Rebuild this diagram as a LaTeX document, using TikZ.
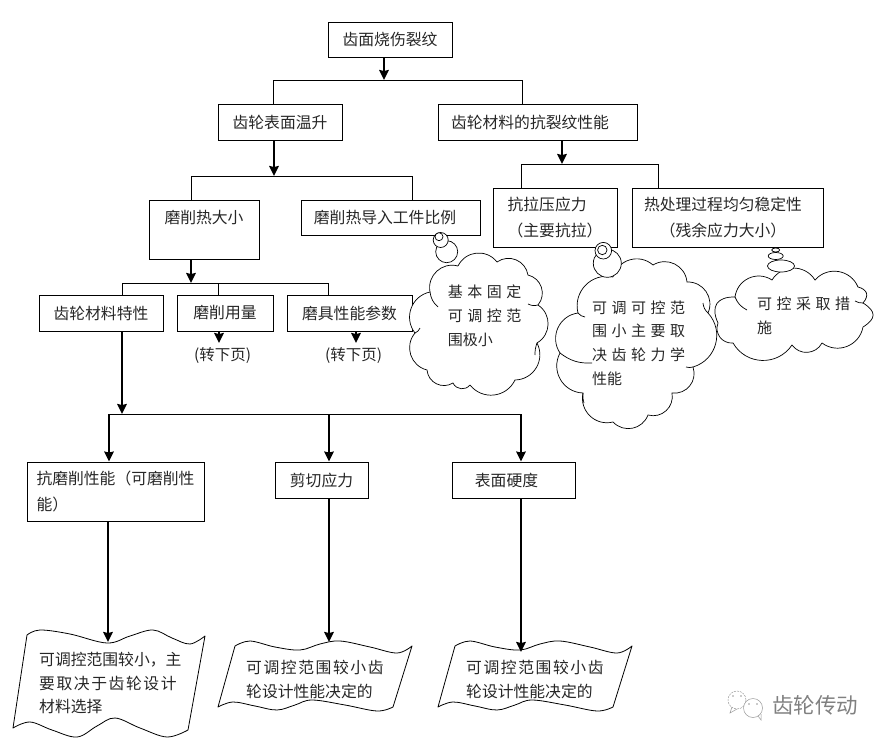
\documentclass[tikz,border=0pt]{standalone}
\usepackage{fontspec}
\setmainfont{Noto Sans CJK SC}
\newfontfamily\cjkwide[LetterSpace=10]{Noto Sans CJK SC}
\newfontfamily\cjkcloud[LetterSpace=30]{Noto Sans CJK SC}
\newfontfamily\cjkplain{Noto Sans CJK SC}
\usetikzlibrary{arrows.meta}
\tikzset{
	box/.style={draw, line width=.9pt, inner sep=0pt, align=center, text=black!85, font=\fontsize{15.8}{26}\selectfont},
	boxleft/.style={box, align=left},
	busline/.style={line width=.9pt},
	flow/.style={line width=1.9pt, ->},
	cloudline/.style={line width=.7pt, fill=white},
	lobe/.style={bend left=58, looseness=1.12},
	cloudtext/.style={align=left, inner sep=0pt, text=black!85, font=\fontsize{15}{23.8}\selectfont\cjkcloud},
	doctext/.style={align=left, inner sep=0pt, anchor=west, text=black!85, font=\fontsize{15.8}{23.5}\selectfont},
	plaintext/.style={inner sep=0pt, text=black!85, font=\fontsize{15.5}{18}\selectfont},
	docline/.style={line width=.8pt, fill=white, line join=round},
}
\begin{document}
\begin{tikzpicture}[x=1pt, y=-1pt, >={Stealth[length=10pt, width=9.5pt, inset=1pt]}]
	\useasboundingbox (0,0) rectangle (887,744);

	\node [box, minimum width=124, minimum height=35] (root) at (390,39.5) {齿面烧伤裂纹};
	\node [box, minimum width=124, minimum height=36] (surface) at (280,122) {齿轮表面温升};
	\node [box, minimum width=199, minimum height=36] (crack) at (537.5,122) {齿轮材料的抗裂纹性能\hspace*{15pt}};
	\node [box, minimum width=110, minimum height=59] (heat) at (204,229.5) {磨削热大小\\ \mbox{}};
	\node [box, minimum width=179, minimum height=35] (ratio) at (390.5,217.5) {磨削热导入工件比例\hspace*{11pt}};
	\node [boxleft, minimum width=124, minimum height=59] (tension) at (555,217.5) {抗拉压应力\\（主要抗拉）};
	\node [box, minimum width=191, minimum height=59] (treat) at (727.5,217.5) {热处理过程均匀稳定性\hspace*{9pt}\\（残余应力大小）\hspace*{9pt}};
	\node [box, minimum width=124, minimum height=36] (gear) at (101,313) {齿轮材料特性};
	\node [box, minimum width=96, minimum height=36] (amount) at (225,313) {磨削用量};
	\node [box, minimum width=125, minimum height=36] (tool) at (349.5,313) {磨具性能参数};
	\node [boxleft, minimum width=177, minimum height=59] (grind) at (115.5,491.5) {抗磨削性能（可磨削性\\能）\hspace*{124pt}};
	\node [box, minimum width=93, minimum height=36] (shear) at (321.5,480) {剪切应力};
	\node [box, minimum width=123, minimum height=36] (hard) at (513.5,480) {表面硬度\hspace*{14pt}};

	\node [plaintext] (nextA) at (222.5,356) {(转下页)};
	\node [plaintext] (nextB) at (353.5,356) {(转下页)};

	\path (384,80) coordinate (trunkA) (273,80) coordinate (busA) (522,80) coordinate (busB)
		(274,176) coordinate (trunkB) (191,176) coordinate (busC) (412,176) coordinate (busD)
		(562,164) coordinate (trunkC) (521,164) coordinate (busE) (658,164) coordinate (busF)
		(191,283) coordinate (trunkD) (122,283) coordinate (busG) (218,283) coordinate (busH) (328,283) coordinate (busI)
		(122,414) coordinate (trunkE) (109,414) coordinate (busJ) (329,414) coordinate (busK) (521,414) coordinate (busL)
		(219,343) coordinate (tipA) (356,343) coordinate (tipB)
		(108,642) coordinate (docA) (329,642) coordinate (docB) (521,652) coordinate (docC);

	\draw [busline] (surface.north-|busA)--(busA)--(busB)--(crack.north-|busB);
	\draw [busline] (heat.north-|busC)--(busC)--(busD)--(ratio.north-|busD);
	\draw [busline] (tension.north-|busE)--(busE)--(busF)--(treat.north-|busF);
	\draw [busline] (gear.north-|busG)--(busG)--(busI)--(tool.north-|busI);
	\draw [busline] (busH)--(amount.north-|busH);
	\draw [busline] (busJ)--(busL);

	\draw [docline] plot [smooth, tension=.6] coordinates {(27,635) (40,630) (70,634) (107,643) (130,636) (153,630) (172,638) (190,644) (205,636)}
		-- plot [smooth, tension=.6] coordinates {(188,730) (167,737) (140,728) (115,718) (97,726) (77,737) (52,730) (30,722) (13,728)} -- cycle;
	\foreach \dx in {0,220}{
		\begin{scope}[xshift=\dx]
			\draw [docline] plot [smooth, tension=.6] coordinates {(235,646) (250,641) (275,647) (300,650) (320,644) (340,641) (370,647) (397,653) (412,646)}
				-- plot [smooth, tension=.6] coordinates {(393,707) (377,711) (345,705) (312,700) (295,705) (277,710) (255,706) (233,702) (218,707)} -- cycle;
		\end{scope}
	}

	\draw [flow] (root.south-|trunkA)--(trunkA);
	\draw [flow] (surface.south-|trunkB)--(trunkB);
	\draw [flow] (crack.south-|trunkC)--(trunkC);
	\draw [flow] (heat.south-|trunkD)--(trunkD);
	\draw [flow] (gear.south-|trunkE)--(trunkE);
	\draw [flow] (amount.south-|tipA)--(tipA);
	\draw [flow] (tool.south-|tipB)--(tipB);
	\foreach \x/\y in {busJ/grind, busK/shear, busL/hard}{
		\draw [flow] (\x)--(\y.north-|\x);
	}
	\draw [flow] (grind.south-|docA)--(docA);
	\draw [flow] (shear.south-|docB)--(docB);
	\draw [flow] (hard.south-|docC)--(docC);

	\node [doctext] (docAtext) at (39,683) {可调控范围较小，主\\{\cjkwide 要取决于齿轮设计}\\材料选择};
	\foreach \dx/\n in {0/docBtext, 220/docCtext}{
		\node [doctext] (\n) at ({246+\dx},679.5) {{\cjkwide 可调控范围较小齿}\\轮设计性能决定的};
	}

	\draw [cloudline] (458,266) to[lobe] (497,262) to[lobe] (528,275) to[lobe] (538,305) to[lobe] (537,343) to[lobe] (515,380) to[lobe] (470,385) to[lobe] (453,383) to[lobe] (427,370) to[lobe] (415,333) to[lobe] (430,292) to[lobe] (458,266);
	\draw [line width=.7pt] (430,292) to[bend right=20] (438,307);
	\draw [line width=.7pt] (538,305) to[bend left=20] (528,304);
	\draw [line width=.7pt] (537,343) to[bend right=10] (535,355);
	\draw [line width=.7pt] (415,333) to[bend right=20] (420,328);
	\draw [cloudline] (446.7,251.7) circle (11);
	\draw [cloudline] (440.7,240) circle (7.5);
	\draw [cloudline] (439,236.7) circle (4);
	\node [cloudtext] (fixed) at (484.5,316) {基本固定\\可调控范\\{\cjkplain 围极小}};

	\draw [cloudline] (613,277) to[lobe] (653,265) to[lobe] (687,282) to[lobe] (708,313) to[lobe] (693,367) to[lobe] (672,393) to[lobe] (648,415) to[lobe] (613,422) to[lobe] (583,393) to[lobe] (560,353) to[lobe] (578,313) to[lobe] (613,277);
	\draw [line width=.7pt] (560,353) to[bend right=20] (592,363);
	\draw [line width=.7pt] (578,313) to[bend right=20] (585,317);
	\draw [line width=.7pt] (708,313) to[bend left=20] (703,303);
	\draw [line width=.7pt] (693,367) to[bend left=15] (686,367);
	\draw [line width=.7pt] (583,393) to[bend right=10] (584,403);
	\draw [cloudline] (607.3,263.3) circle (14);
	\draw [cloudline] (603.3,250.7) circle (8.3);
	\draw [cloudline] (602.3,250) circle (4.7);
	\node [cloudtext] (range) at (638.5,343) {可调可控范\\围小主要取\\决齿轮力学\\{\cjkplain 性能}};

	\draw [cloudline] (735,297) to[lobe] (772,280) to[lobe] (815,280) to[lobe] (858,287) to[lobe, looseness=1.5] (863,303) to[lobe, looseness=1.7] (863,327) to[lobe] (822,343) to[lobe] (792,345) to[lobe] (733,343) to[lobe] (718,323) to[lobe, looseness=1.5] (735,297);
	\draw [line width=.7pt] (735,297) to[bend right=20] (747,310);
	\draw [line width=.7pt] (863,303) to[bend left=15] (855,301);
	\draw [cloudline] (781,266) ellipse (13.5 and 6);
	\draw [cloudline] (775.7,256) ellipse (7.5 and 3.5);
	\draw [cloudline] (775.7,250) ellipse (4 and 2);
	\node [cloudtext] (measure) at (803.5,316) {可控采取措\\施\phantom{控采取措}};

	\begin{scope}[black!40, line width=.5pt]
		\draw (732,707) -- (730,713) -- (737,709);
		\draw [dash pattern=on 2pt off 1pt] (737,700) circle (9);
		\draw [fill=white] (753,708) circle (9.5);
		\draw (758,716) -- (761,720) -- (761,714);
		\fill (749,704) circle (.8) (757,704) circle (.8) (733,696) circle (.8) (741,696) circle (.8);
	\end{scope}
	\node [inner sep=0pt, text=black!50, font=\fontsize{21.5}{24}\selectfont] (mark) at (815,705) {齿轮传动};
\end{tikzpicture}
\end{document}
